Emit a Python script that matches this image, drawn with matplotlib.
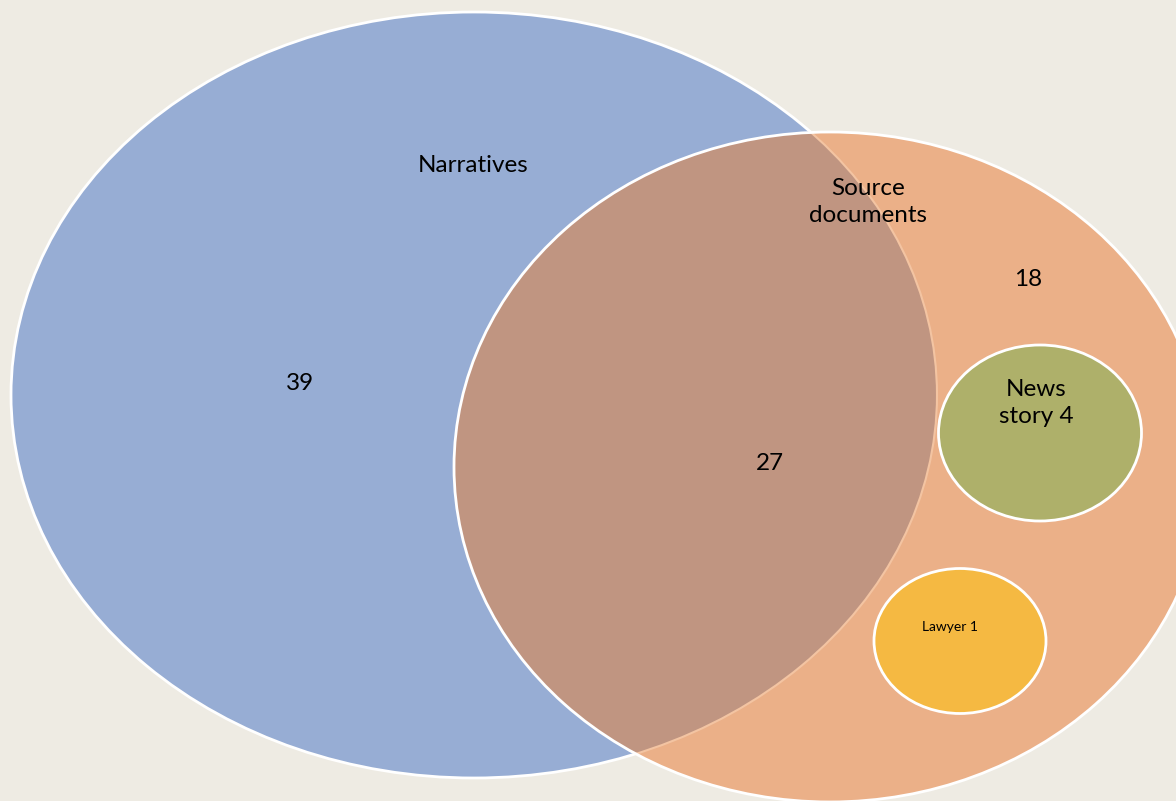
import matplotlib
matplotlib.use('Agg')
from matplotlib import pyplot as plt
from matplotlib.patches import Ellipse

plt.rcParams['font.family'] = ['Lato', 'DejaVu Sans']

# sets: name, centre x, centre y, width, height (pixel space of the slide)
set_names = ['Narratives', 'Source documents', 'News story 4', 'Lawyer 1']
centres = [(474, 395), (830, 467), (1040, 433), (960, 641)]
widths = [926, 752, 203, 172]
heights = [766, 670, 176, 145]
fills = ['#97ADD4', '#EBB088', '#AEB06A', '#F5B942']

# labels and counts
labels = ['Narratives', 'Source\ndocuments', '39', '27', '18', 'News\nstory 4', 'Lawyer 1']
label_pos = [(473, 166), (868, 202), (300, 384), (770, 464), (1028, 280), (1036, 403), (950, 627)]
label_size = [17.5, 17.5, 17.5, 17.5, 17.5, 17.5, 10]

overlap_color = '#C09581'
background = '#EEEBE3'

fig = plt.figure(figsize=(11.76, 8.01), dpi=100)
fig.patch.set_facecolor(background)
ax = fig.add_axes([0, 0, 1, 1])
ax.set_xlim(0, 1176)
ax.set_ylim(801, 0)
ax.set_aspect('equal')
ax.axis('off')


def ellipse(i, **kw):
    return Ellipse(centres[i], widths[i], heights[i], **kw)


# Narratives
ax.add_patch(ellipse(0, facecolor=fills[0], edgecolor='white', linewidth=2, zorder=1))
# Source documents
orange = ellipse(1, facecolor=fills[1], edgecolor='none', zorder=2)
ax.add_patch(orange)

# overlap of the two big sets
overlap = ellipse(0, facecolor=overlap_color, edgecolor='none', zorder=3)
ax.add_patch(overlap)
overlap.set_clip_path(orange)
faint = ellipse(0, facecolor='none', edgecolor='#F3C4A2', linewidth=1.5, zorder=4)
ax.add_patch(faint)
faint.set_clip_path(orange)

ax.add_patch(ellipse(1, facecolor='none', edgecolor='white', linewidth=2, zorder=5))

# inner sets
ax.add_patch(ellipse(2, facecolor=fills[2], edgecolor='white', linewidth=2, zorder=6))
ax.add_patch(ellipse(3, facecolor=fills[3], edgecolor='white', linewidth=2, zorder=6))

for text, (x, y), size in zip(labels, label_pos, label_size):
    ax.text(x, y, text, ha='center', va='center', fontsize=size,
            color='black', linespacing=1.35, zorder=10)

fig.savefig('out.png', dpi=100, facecolor=background)
